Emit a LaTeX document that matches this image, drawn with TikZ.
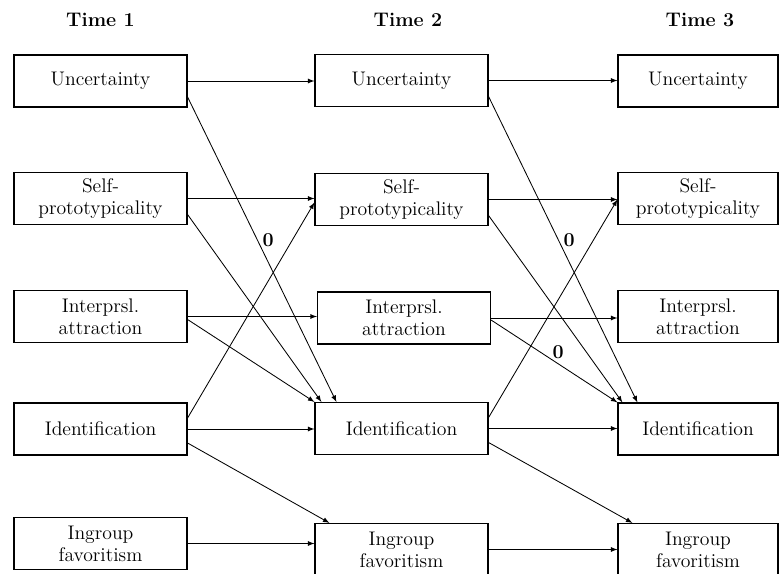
\documentclass[tikz,border=0pt]{standalone}
\usetikzlibrary{arrows,calc}

\begin{document}
\begin{tikzpicture}[>=latex,x=0.025cm,y=-0.025cm,
	box/.style={draw,line width=0.8pt,minimum width=4.325cm,minimum height=1.3cm,
		inner sep=0pt,align=center,font=\fontsize{14}{15.5}\selectfont},
	lastbox/.style={box,minimum width=4cm},
	head/.style={font=\fontsize{14}{15.5}\selectfont\bfseries},
	lag/.style={->,line width=0.6pt},
	zero/.style={font=\fontsize{14}{15.5}\selectfont\bfseries}]

\useasboundingbox (0,0) rectangle (779,574);

%
% Zeitpunkte
%
\node[head] (time1) at (100.5,20) {Time 1};
\node[head] (time2) at (408,20) {Time 2};
\node[head] (time3) at (700,20) {Time 3};

%
% Time 1
%
\node[box] (unc1) at (100.5,81) {Uncertainty};
\node[box] (self1) at (100.5,198.5) {Self-\\prototypicality};
\node[box] (attr1) at (100.5,316.5) {Interprsl.\\attraction};
\node[box] (ident1) at (100.5,429) {Identification};
\node[box] (fav1) at (100.5,543.5) {Ingroup\\favoritism};

%
% Time 2
%
\node[box] (unc2) at (401.5,80.5) {Uncertainty};
\node[box] (self2) at (401.5,199.5) {Self-\\prototypicality};
\node[box] (attr2) at (404,318) {Interprsl.\\attraction};
\node[box] (ident2) at (401.5,428.5) {Identification};
\node[box] (fav2) at (401.5,549.5) {Ingroup\\favoritism};

%
% Time 3
%
\node[lastbox] (unc3) at (698,81) {Uncertainty};
\node[lastbox] (self3) at (698,198.5) {Self-\\prototypicality};
\node[lastbox] (attr3) at (698,316.5) {Interprsl.\\attraction};
\node[lastbox] (ident3) at (698,429) {Identification};
\node[lastbox] (fav3) at (698,549.5) {Ingroup\\favoritism};

%
% Stabilitaeten
%
\foreach \n in {unc,self,attr,ident,fav}{
	\draw[lag] (\n1.east) -- (\n1.east -| \n2.west);
	\draw[lag] (\n2.east) -- (\n2.east -| \n3.west);
}

%
% Kreuzpfade Time 1 -> Time 2
%
\draw[lag] ($(unc1.east)+(0,16)$) -- ($(ident2.north west)+(22,0)$)
	node[zero,pos=0.47,right] {0};
\draw[lag] ($(self1.east)+(0,16)$) -- ($(ident2.north west)+(7,0)$);
\draw[lag] ($(attr1.east)+(0,3)$) -- ($(ident2.north west)+(0,0)$);
\draw[lag] ($(ident1.east)+(0,-11)$) -- ($(self2.west)+(0,3)$);
\draw[lag] ($(ident1.east)+(0,14)$) -- ($(fav2.north west)+(15,0)$);

%
% Kreuzpfade Time 2 -> Time 3
%
\draw[lag] ($(unc2.east)+(0,16)$) -- ($(ident3.north west)+(20,0)$)
	node[zero,pos=0.47,right] {0};
\draw[lag] ($(self2.east)+(0,16)$) -- ($(ident3.north west)+(5,0)$);
\draw[lag] ($(attr2.east)+(0,2)$) -- ($(ident3.north west)+(0,0)$)
	node[zero,pos=0.53,above] {0};
\draw[lag] ($(ident2.east)+(0,-11)$) -- ($(self3.west)+(0,1)$);
\draw[lag] ($(ident2.east)+(0,14)$) -- ($(fav3.north west)+(15,0)$);

\end{tikzpicture}
\end{document}
